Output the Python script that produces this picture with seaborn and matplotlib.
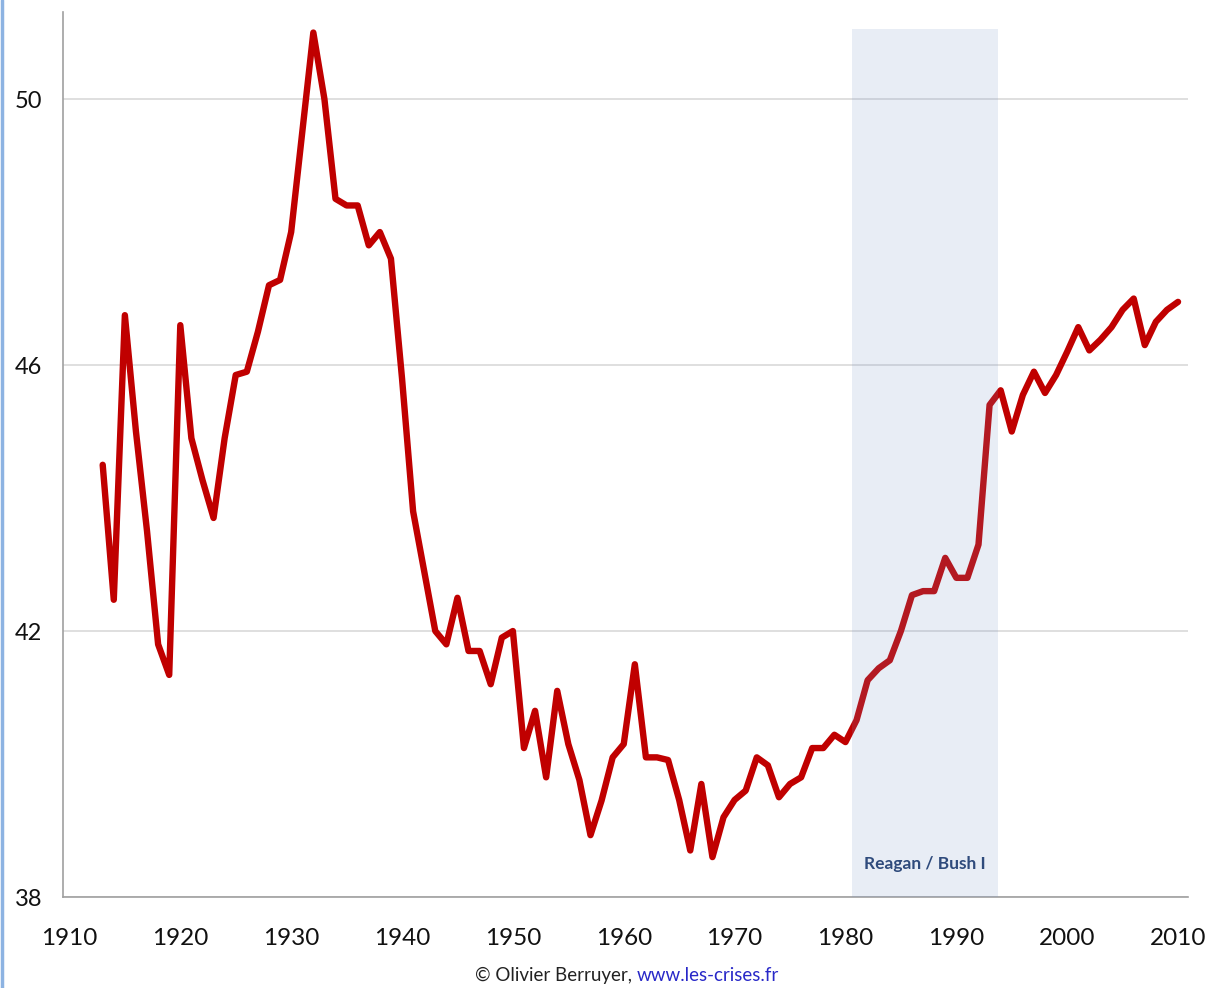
import numpy as np
import pandas as pd
import seaborn as sns
import matplotlib.pyplot as plt
from matplotlib.lines import Line2D

years = list(range(1913, 2011))
share = [
    44.5, 42.47, 46.75, 45.0, 43.5, 41.8, 41.34, 46.6, 44.9, 44.27,
    43.7, 44.9, 45.85, 45.9, 46.5, 47.2, 47.28, 48.0, 49.5, 51.0,
    50.0, 48.5, 48.4, 48.4, 47.8, 48.0, 47.6, 45.8, 43.8, 42.9,
    42.0, 41.8, 42.5, 41.7, 41.7, 41.2, 41.9, 42.0, 40.24, 40.8,
    39.8, 41.1, 40.3, 39.76, 38.93, 39.45, 40.1, 40.3, 41.5, 40.1,
    40.1, 40.06, 39.46, 38.7, 39.7, 38.6, 39.2, 39.46, 39.6, 40.1,
    39.98, 39.5, 39.7, 39.8, 40.24, 40.24, 40.44, 40.33, 40.66, 41.26,
    41.44, 41.56, 42.0, 42.54, 42.6, 42.6, 43.1, 42.8, 42.8, 43.3,
    45.4, 45.62, 45.0, 45.55, 45.9, 45.58, 45.85, 46.2, 46.57, 46.22,
    46.38, 46.57, 46.83, 47.0, 46.3, 46.65, 46.83, 46.95,
]
y_ticks = [38, 42, 46, 50]
x_labels = list(range(1910, 2011, 10))
span_start, span_end = 1980.55, 1993.8
span_label = "Reagan / Bush I"

df = pd.DataFrame({"year": years, "share": share})

sns.set_style("white")
plt.rcParams["font.family"] = ["Lato", "DejaVu Sans"]

fig = plt.figure(figsize=(12.14, 9.88), dpi=100)
ax = fig.add_axes([0.0519, 0.0921, 0.9267, 0.8958])

sns.lineplot(data=df, x="year", y="share", ax=ax, color="#C00000",
             linewidth=4.6, solid_joinstyle="round", solid_capstyle="round",
             zorder=3)

# shaded period drawn over the line, like the original
ax.axvspan(span_start, span_end, ymin=0, ymax=0.981,
           color="#7896C8", alpha=0.17, lw=0, zorder=4)
ax.text((span_start + span_end) / 2, 38.5, span_label, ha="center",
        va="center", fontsize=12.5, fontweight="bold", color="#2F4B7C",
        zorder=5)

ax.set_xlim(1909.42, 2010.9)
ax.set_ylim(38, 51.31)
ax.set_yticks(y_ticks)
ax.set_yticklabels([str(v) for v in y_ticks], fontsize=17, color="#111111")
ax.set_xticks(x_labels)
ax.set_xticklabels([str(v) for v in x_labels], fontsize=17.5, color="#111111")
ax.set_xticks(np.arange(1909.5, 2011, 5), minor=True)
ax.tick_params(axis="x", which="major", length=0, pad=22)
ax.tick_params(axis="x", which="minor", length=6, width=1, color="#A0A0A0",
               direction="in")
ax.tick_params(axis="y", length=6, width=1, color="#A0A0A0", pad=9)
ax.grid(axis="y", color="#D9D9D9", linewidth=1.2, zorder=0)
ax.set_axisbelow(True)
ax.set_xlabel("")
ax.set_ylabel("")

for side in ["top", "right"]:
    ax.spines[side].set_visible(False)
for side in ["left", "bottom"]:
    ax.spines[side].set_color("#A0A0A0")
    ax.spines[side].set_linewidth(1.2)

credit = fig.text(0.391, 0.013, "© Olivier Berruyer, ", ha="left",
                  va="center", fontsize=13.5, color="#222222")
ax.annotate("www.les-crises.fr", xy=(1, 0.5), xycoords=credit,
            ha="left", va="center", fontsize=13.5, color="#2828C8",
            annotation_clip=False)

fig.add_artist(Line2D([0.002, 0.002], [0.0, 1.0], transform=fig.transFigure,
                      color="#8DB3E2", linewidth=2.5))

fig.savefig("out.png", dpi=100)
